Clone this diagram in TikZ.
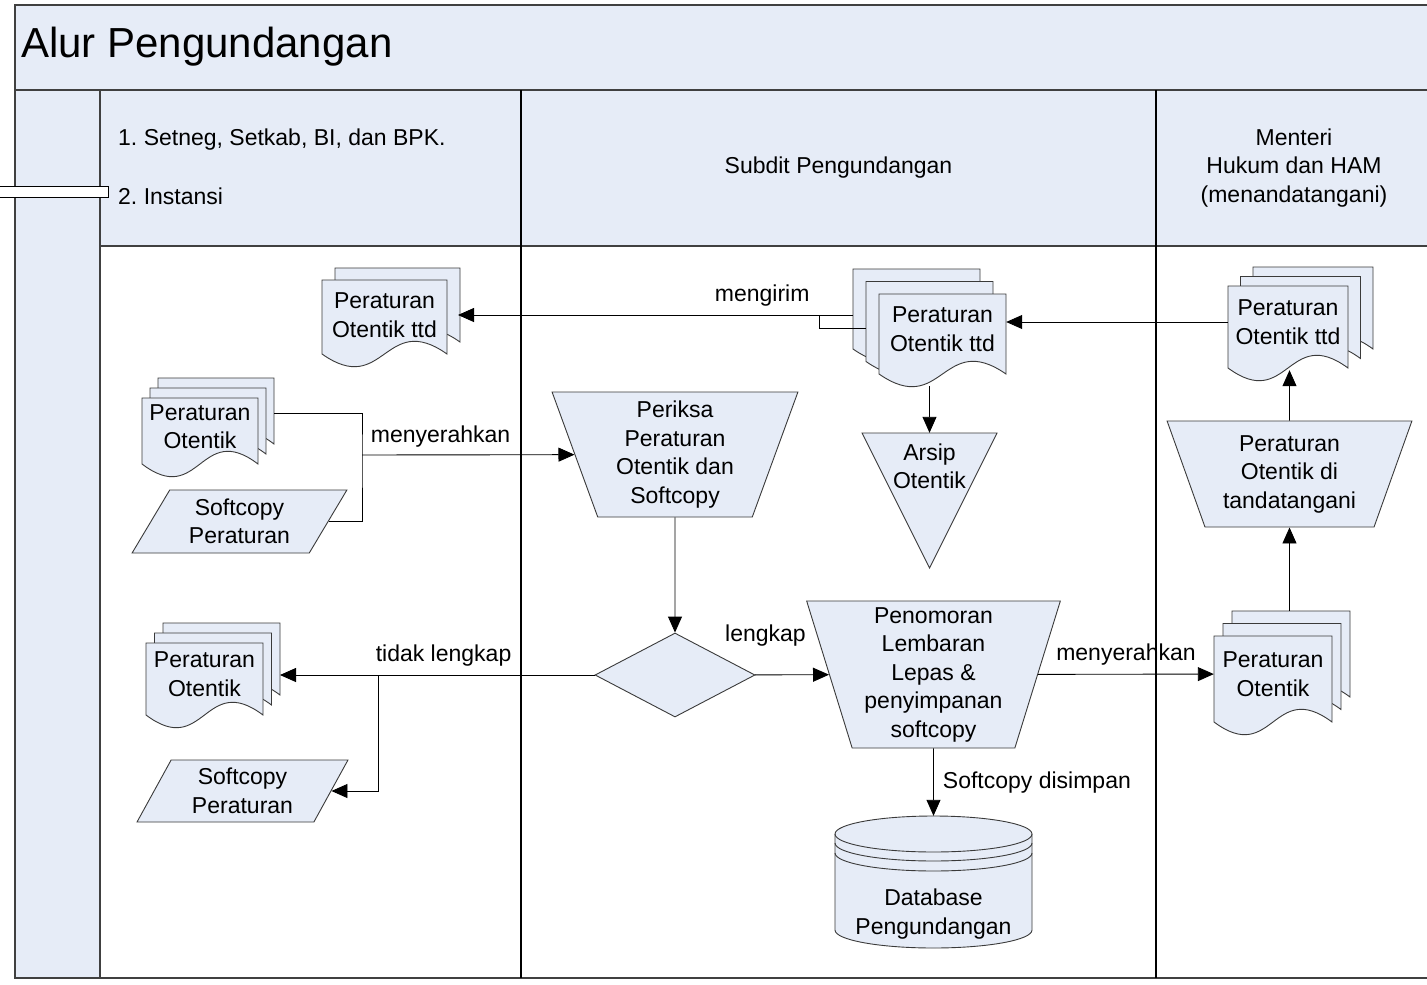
\documentclass[tikz,border=0pt]{standalone}
\usepackage{fontspec}
\setmainfont{Liberation Sans}
\usetikzlibrary{shapes.geometric, arrows.meta, positioning}
\definecolor{lane-fill}{HTML}{E6ECF7}
\definecolor{frame-line}{HTML}{404040}
\definecolor{shape-line}{HTML}{3A3A3A}
\frenchspacing

% one sheet of a document symbol: top-left x, y, width, height
\newcommand{\docpage}[4]{%
  \pgfmathsetmacro\pgL{#1}\pgfmathsetmacro\pgT{#2}%
  \pgfmathsetmacro\pgR{#1+#3}\pgfmathsetmacro\pgB{#2+#4}%
  \pgfmathsetmacro\pgM{#1+0.5*#3}%
  \filldraw[page] (\pgL,\pgT) -- (\pgR,\pgT) -- (\pgR,\pgB)
    .. controls (\pgM,\pgB-44) and (\pgM,\pgB+44) .. (\pgL,\pgB) -- cycle;}
% stack of sheets: layers, x, y, w, h (front sheet), dx, dy per layer
\newcommand{\docstack}[7]{%
  \foreach \k in {#1,...,1}{%
    \docpage{#2+(\k-1)*(#6)}{#3-(\k-1)*(#7)}{#4}{#5}}}

\begin{document}
\begin{tikzpicture}[x=1pt, y=-1pt,
    every node/.style={font=\fontsize{23}{28.5}\selectfont, align=center, inner sep=0pt},
    page/.style={draw=shape-line, fill=lane-fill, line width=0.9pt},
    proc/.style={trapezium, shape border rotate=180, trapezium stretches=true,
      draw=shape-line, fill=lane-fill, line width=0.9pt},
    datain/.style={trapezium, trapezium stretches=true,
      draw=shape-line, fill=lane-fill, line width=0.9pt},
    arr/.style={-{Triangle[length=16pt, width=14pt]}, line width=0.9pt}]
  \useasboundingbox (0,0) rectangle (1427,985);
  \fill[white] (0,0) rectangle (1427,985);

  % pool frame
  \fill[lane-fill] (15,5) rectangle (1440,90);
  \fill[lane-fill] (15,90) rectangle (100,978);
  \fill[lane-fill] (100,90) rectangle (1440,246);
  \draw[frame-line, line width=1.6pt] (15,5) rectangle (1440,978);
  \draw[frame-line, line width=1.6pt] (15,90) -- (1440,90);
  \draw[frame-line, line width=1.6pt] (100,246) -- (1440,246);
  \draw[frame-line, line width=1.4pt] (100,90) -- (100,978);
  \draw[line width=1.1pt] (521,90) -- (521,978);
  \draw[line width=1.1pt] (1156,90) -- (1156,978);
  \draw[fill=white, line width=1pt] (-2,186) rectangle (108,197);

  \node[anchor=west, font=\fontsize{42}{48}\selectfont] (judul) at (21,47) {Alur Pengundangan};
  \node[anchor=west] (pool-1) at (118,140) {1. Setneg, Setkab, BI, dan BPK.};
  \node[anchor=west] (pool-2) at (118,196) {2. Instansi};
  \node (lane-subdit) at (838.5,168) {Subdit Pengundangan};
  \node (lane-menteri) at (1294,168) {Menteri\\Hukum dan HAM\\(menandatangani)};

  % document stacks
  \docstack{2}{322}{280}{125}{74}{13}{12}
  \docstack{3}{879}{294}{127}{80}{-13}{12.5}
  \docstack{3}{1228}{286}{120}{82}{12.5}{9.5}
  \docstack{3}{142}{398}{116}{66}{8}{10}
  \docstack{3}{146}{643}{117}{72}{8.5}{10}
  \docstack{3}{1214}{636}{118}{86}{9}{12.5}
  \node[minimum width=125pt] (ttd-kiri) at (384.5,315) {Peraturan\\Otentik ttd};
  \node[minimum width=127pt, minimum height=114pt] (ttd-subdit) at (942.5,329) {Peraturan\\Otentik ttd};
  \node[minimum width=120pt, minimum height=96pt] (ttd-menteri) at (1288,322) {Peraturan\\Otentik ttd};
  \node[minimum width=116pt] (otentik-kiri) at (200,426.5) {Peraturan\\Otentik};
  \node[minimum width=117pt] (otentik-tolak) at (204.5,674) {Peraturan\\Otentik};
  \node[minimum width=118pt] (otentik-menteri) at (1273,674) {Peraturan\\Otentik};

  % processes
  \node[proc, trapezium angle=72, minimum width=246pt, minimum height=125pt] (periksa)
    at (675,454.5) {Periksa\\Peraturan\\Otentik dan\\Softcopy};
  \node[proc, trapezium angle=74, minimum width=254pt, minimum height=147pt] (penomoran)
    at (933.5,674.5) {Penomoran\\Lembaran\\Lepas \&\\penyimpanan\\softcopy};
  \node[proc, trapezium angle=69, minimum width=245pt, minimum height=106pt] (tandatangan)
    at (1289.5,474) {Peraturan\\Otentik di\\tandatangani};
  \node[diamond, draw=shape-line, fill=lane-fill, line width=0.9pt,
    minimum width=160pt, minimum height=84pt] (cek) at (675,675) {};
  \node[datain, trapezium left angle=59, trapezium right angle=121,
    minimum width=215pt, minimum height=63pt] (soft-kiri) at (239.5,521.5) {Softcopy\\Peraturan};
  \node[datain, trapezium left angle=62, trapezium right angle=118,
    minimum width=211pt, minimum height=62pt] (soft-tolak) at (242.5,791) {Softcopy\\Peraturan};

  % archive and database
  \filldraw[page] (862,433) -- (997,433) -- (929.5,568) -- cycle;
  \node[minimum height=67pt] (arsip) at (929.5,466.5) {Arsip\\Otentik};
  \filldraw[page] (835,834) -- (835,930)
    arc[start angle=180, end angle=360, x radius=98.5pt, y radius=18pt] -- (1032,834)
    arc[start angle=0, end angle=180, x radius=98.5pt, y radius=18pt] -- cycle;
  \foreach \r in {834,843,853}
    \draw[page, fill=none] (835,\r) arc[start angle=180, end angle=360, x radius=98.5pt, y radius=18pt];
  \node[minimum width=197pt, minimum height=196pt] (database) at (933.5,914) {Database\\Pengundangan};

  % connectors
  \coordinate (kirim-dari) at (853,315);
  \coordinate (kirim-ke) at (458,315);
  \coordinate (kirim-belok) at (819,315);
  \coordinate (kirim-tengah) at (866,328);
  \coordinate (serah-kiri) at (274,413);
  \coordinate (serah-gabung) at (362,455);
  \coordinate (tolak-ke) at (280,675);
  \coordinate (tolak-cabang) at (378,675);
  \coordinate (otentik-menteri-atas) at (1289.5,611);

  \draw[arr] (ttd-menteri.west) -- (ttd-menteri.west -| ttd-subdit.east);
  \draw[arr] (kirim-dari) -- node[pos=0.23, yshift=19pt] {mengirim} (kirim-ke);
  \draw[line width=0.9pt] (kirim-belok) |- (kirim-tengah);
  \draw[arr] (arsip |- ttd-subdit.south) -- (arsip);
  \draw[line width=0.9pt] (serah-kiri) -| (serah-gabung) |- (soft-kiri.east);
  \draw[arr] (serah-gabung) -- node[pos=0.37, yshift=18pt] {menyerahkan} (periksa);
  \draw[arr] (periksa) -- (cek);
  \draw[arr] (cek) -- node[pos=0.14, yshift=39pt] {lengkap} (penomoran);
  \draw[arr] (cek) -- node[pos=0.48, yshift=19pt] {tidak lengkap} (tolak-ke);
  \draw[arr] (tolak-cabang) |- (soft-tolak.east);
  \draw[arr] (penomoran) -- node[right=9pt] {Softcopy disimpan} (database);
  \draw[arr] (penomoran) -- node[pos=0.5, yshift=20pt] {menyerahkan} (otentik-menteri);
  \draw[arr] (otentik-menteri-atas) -- (tandatangan);
  \draw[arr] (tandatangan) -- (tandatangan |- ttd-menteri.south);
\end{tikzpicture}
\end{document}
